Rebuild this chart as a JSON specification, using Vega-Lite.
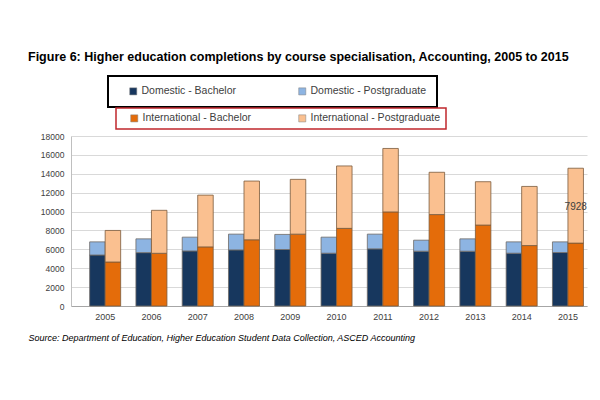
{
  "$schema": "https://vega.github.io/schema/vega-lite/v6.json",
  "width": 516,
  "height": 170,
  "autosize": {"type": "none"},
  "padding": {"left": 71, "top": 136, "right": 13, "bottom": 94},
  "background": "white",
  "title": {
    "text": "Figure 6: Higher education completions by course specialisation, Accounting, 2005 to 2015",
    "anchor": "start",
    "dx": 0,
    "dy": -8,
    "font": "Liberation Sans",
    "fontSize": 12.5,
    "fontWeight": "bold",
    "color": "#000000"
  },
  "config": {
    "view": {"stroke": null},
    "font": "Liberation Sans"
  },
  "datasets": {
    "bars": [
      {"year": "2005", "group": "Domestic", "level": "Bachelor", "series": "Domestic - Bachelor", "value": 5400},
      {"year": "2005", "group": "Domestic", "level": "Postgraduate", "series": "Domestic - Postgraduate", "value": 1390},
      {"year": "2005", "group": "International", "level": "Bachelor", "series": "International - Bachelor", "value": 4660},
      {"year": "2005", "group": "International", "level": "Postgraduate", "series": "International - Postgraduate", "value": 3340},
      {"year": "2006", "group": "Domestic", "level": "Bachelor", "series": "Domestic - Bachelor", "value": 5650},
      {"year": "2006", "group": "Domestic", "level": "Postgraduate", "series": "Domestic - Postgraduate", "value": 1460},
      {"year": "2006", "group": "International", "level": "Bachelor", "series": "International - Bachelor", "value": 5580},
      {"year": "2006", "group": "International", "level": "Postgraduate", "series": "International - Postgraduate", "value": 4550},
      {"year": "2007", "group": "Domestic", "level": "Bachelor", "series": "Domestic - Bachelor", "value": 5830},
      {"year": "2007", "group": "Domestic", "level": "Postgraduate", "series": "Domestic - Postgraduate", "value": 1460},
      {"year": "2007", "group": "International", "level": "Bachelor", "series": "International - Bachelor", "value": 6260},
      {"year": "2007", "group": "International", "level": "Postgraduate", "series": "International - Postgraduate", "value": 5480},
      {"year": "2008", "group": "Domestic", "level": "Bachelor", "series": "Domestic - Bachelor", "value": 5940},
      {"year": "2008", "group": "Domestic", "level": "Postgraduate", "series": "Domestic - Postgraduate", "value": 1670},
      {"year": "2008", "group": "International", "level": "Bachelor", "series": "International - Bachelor", "value": 7010},
      {"year": "2008", "group": "International", "level": "Postgraduate", "series": "International - Postgraduate", "value": 6220},
      {"year": "2009", "group": "Domestic", "level": "Bachelor", "series": "Domestic - Bachelor", "value": 5980},
      {"year": "2009", "group": "Domestic", "level": "Postgraduate", "series": "Domestic - Postgraduate", "value": 1600},
      {"year": "2009", "group": "International", "level": "Bachelor", "series": "International - Bachelor", "value": 7610},
      {"year": "2009", "group": "International", "level": "Postgraduate", "series": "International - Postgraduate", "value": 5800},
      {"year": "2010", "group": "Domestic", "level": "Bachelor", "series": "Domestic - Bachelor", "value": 5590},
      {"year": "2010", "group": "Domestic", "level": "Postgraduate", "series": "Domestic - Postgraduate", "value": 1700},
      {"year": "2010", "group": "International", "level": "Bachelor", "series": "International - Bachelor", "value": 8220},
      {"year": "2010", "group": "International", "level": "Postgraduate", "series": "International - Postgraduate", "value": 6610},
      {"year": "2011", "group": "Domestic", "level": "Bachelor", "series": "Domestic - Bachelor", "value": 6050},
      {"year": "2011", "group": "Domestic", "level": "Postgraduate", "series": "Domestic - Postgraduate", "value": 1560},
      {"year": "2011", "group": "International", "level": "Bachelor", "series": "International - Bachelor", "value": 9960},
      {"year": "2011", "group": "International", "level": "Postgraduate", "series": "International - Postgraduate", "value": 6720},
      {"year": "2012", "group": "Domestic", "level": "Bachelor", "series": "Domestic - Bachelor", "value": 5800},
      {"year": "2012", "group": "Domestic", "level": "Postgraduate", "series": "Domestic - Postgraduate", "value": 1170},
      {"year": "2012", "group": "International", "level": "Bachelor", "series": "International - Bachelor", "value": 9680},
      {"year": "2012", "group": "International", "level": "Postgraduate", "series": "International - Postgraduate", "value": 4480},
      {"year": "2013", "group": "Domestic", "level": "Bachelor", "series": "Domestic - Bachelor", "value": 5800},
      {"year": "2013", "group": "Domestic", "level": "Postgraduate", "series": "Domestic - Postgraduate", "value": 1310},
      {"year": "2013", "group": "International", "level": "Bachelor", "series": "International - Bachelor", "value": 8570},
      {"year": "2013", "group": "International", "level": "Postgraduate", "series": "International - Postgraduate", "value": 4590},
      {"year": "2014", "group": "Domestic", "level": "Bachelor", "series": "Domestic - Bachelor", "value": 5590},
      {"year": "2014", "group": "Domestic", "level": "Postgraduate", "series": "Domestic - Postgraduate", "value": 1200},
      {"year": "2014", "group": "International", "level": "Bachelor", "series": "International - Bachelor", "value": 6400},
      {"year": "2014", "group": "International", "level": "Postgraduate", "series": "International - Postgraduate", "value": 6260},
      {"year": "2015", "group": "Domestic", "level": "Bachelor", "series": "Domestic - Bachelor", "value": 5660},
      {"year": "2015", "group": "Domestic", "level": "Postgraduate", "series": "Domestic - Postgraduate", "value": 1130},
      {"year": "2015", "group": "International", "level": "Bachelor", "series": "International - Bachelor", "value": 6660},
      {"year": "2015", "group": "International", "level": "Postgraduate", "series": "International - Postgraduate", "value": 7928}
    ],
    "labels": [
      {"year": "2015", "group": "International", "label": "7928", "value": 10450}
    ]
  },
  "encoding": {
    "x": {
      "field": "year",
      "type": "nominal",
      "scale": {"paddingInner": 0.33, "paddingOuter": 0.24, "align": 0.84},
      "axis": {
        "title": "Source: Department of Education, Higher Education Student Data Collection, ASCED Accounting",
        "titleFont": "Liberation Sans",
        "titleFontSize": 9,
        "titleFontStyle": "italic",
        "titleFontWeight": "normal",
        "titleColor": "#000000",
        "titleAlign": "left",
        "titleBaseline": "middle",
        "titleX": -43,
        "titleY": 31,
        "labelAngle": 0,
        "labelFontSize": 9,
        "labelColor": "#404040",
        "labelPadding": 6,
        "ticks": false,
        "domainColor": "#a6a6a6",
        "grid": false
      }
    },
    "xOffset": {
      "field": "group",
      "type": "nominal",
      "scale": {"domain": ["Domestic", "International"], "paddingInner": 0, "paddingOuter": 0}
    },
    "y": {
      "field": "value",
      "type": "quantitative",
      "scale": {"domain": [0, 18000], "nice": false},
      "axis": {
        "title": null,
        "values": [0, 2000, 4000, 6000, 8000, 10000, 12000, 14000, 16000, 18000],
        "format": "d",
        "labelOverlap": false,
        "labelFontSize": 8.5,
        "labelColor": "#404040",
        "labelPadding": 7,
        "ticks": false,
        "domainColor": "#bfbfbf",
        "gridColor": "#d9d9d9",
        "gridWidth": 1
      }
    }
  },
  "layer": [
    {
      "data": {"name": "bars"},
      "transform": [{"filter": "datum.group === 'Domestic'"}],
      "mark": {"type": "bar", "stroke": "#6f6a66", "strokeWidth": 0.8},
      "encoding": {
        "order": {"field": "level", "sort": "ascending"},
        "color": {
          "field": "series",
          "type": "nominal",
          "scale": {
            "domain": ["Domestic - Bachelor", "Domestic - Postgraduate"],
            "range": ["#17375e", "#8db4e2"]
          },
          "legend": {
            "title": " ",
            "titleOrient": "left",
            "titlePadding": 10,
            "titleFontSize": 10,
            "orient": "none",
            "legendX": 37,
            "legendY": -60,
            "direction": "horizontal",
            "columns": 2,
            "columnPadding": 60,
            "padding": 10,
            "strokeColor": "#000000",
            "symbolType": "square",
            "symbolSize": 50,
            "symbolStrokeColor": "#7f7f7f",
            "symbolStrokeWidth": 0.5,
            "labelFont": "Liberation Sans",
            "labelFontSize": 10.5,
            "labelColor": "#404040",
            "labelOffset": 3,
            "encode": {"legend": {"update": {"strokeWidth": {"value": 2}}}}
          }
        }
      }
    },
    {
      "data": {"name": "bars"},
      "transform": [{"filter": "datum.group === 'International'"}],
      "mark": {"type": "bar", "stroke": "#7a5a3c", "strokeWidth": 0.8},
      "encoding": {
        "order": {"field": "level", "sort": "ascending"},
        "color": {
          "field": "series",
          "type": "nominal",
          "scale": {
            "domain": ["International - Bachelor", "International - Postgraduate"],
            "range": ["#e46c0a", "#fac090"]
          },
          "legend": {
            "title": " ",
            "titleOrient": "left",
            "titlePadding": 8,
            "titleFontSize": 10,
            "orient": "none",
            "legendX": 45,
            "legendY": -28,
            "direction": "horizontal",
            "columns": 2,
            "columnPadding": 45,
            "padding": 5,
            "strokeColor": "#c0272d",
            "symbolType": "square",
            "symbolSize": 50,
            "symbolStrokeColor": "#7f7f7f",
            "symbolStrokeWidth": 0.5,
            "labelFont": "Liberation Sans",
            "labelFontSize": 10.5,
            "labelColor": "#404040",
            "labelOffset": 3,
            "encode": {"legend": {"update": {"strokeWidth": {"value": 1.5}}}}
          }
        }
      }
    },
    {
      "data": {"name": "labels"},
      "mark": {"type": "text", "fontSize": 10, "color": "#404040", "font": "Liberation Sans"},
      "encoding": {
        "text": {"field": "label"}
      }
    }
  ],
  "resolve": {"scale": {"color": "independent"}, "legend": {"color": "independent"}}
}
